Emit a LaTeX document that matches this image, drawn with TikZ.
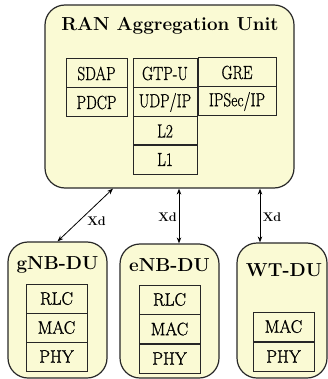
\documentclass[tikz,border=0pt]{standalone}
\usepackage{fontspec}
\usetikzlibrary{arrows.meta,calc}
\definecolor{unitfill}{RGB}{250,250,212}
\definecolor{unitline}{RGB}{40,40,40}
% layer labels: tall, slightly condensed and darkened serif
\newfontfamily\layerfont{Latin Modern Roman}[RawFeature={embolden=0.7}]
\newfontfamily\dufont{Latin Modern Roman}[RawFeature={embolden=1.3}]
\newcommand\toplayer[1]{\layerfont\fontsize{19}{20}\selectfont\scalebox{0.8}[1]{#1}}
\newcommand\dulayer[1]{\dufont\fontsize{18}{19}\selectfont\scalebox{0.95}[1]{#1}}
\tikzset{
  unitbox/.style={draw=unitline, line width=1.2pt, fill=unitfill, rounded corners=20pt, inner sep=0pt},
  unittitle/.style={font=\fontsize{18.8}{20}\selectfont\bfseries, inner sep=0pt},
  layerbox/.style={draw=black!85, line width=1pt, inner sep=0pt, minimum height=29pt},
  xdlink/.style={{Stealth[length=6pt,width=4.5pt]}-{Stealth[length=6pt,width=4.5pt]}, line width=0.8pt},
  xdlabel/.style={font=\fontsize{12.5}{13}\selectfont\bfseries, inner sep=0pt}
}
\begin{document}
\begin{tikzpicture}[x=1pt,y=-1pt]
\useasboundingbox (0,0) rectangle (328,379);

% central unit
\node[unitbox, minimum width=249pt, minimum height=183pt] (ran) at (169.5,96.5) {};
\node[unittitle] (rantitle) at (170,26) {RAN Aggregation Unit};

\node[layerbox, minimum width=61pt] (sdap) at (96.5,73.5) {\toplayer{SDAP}};
\node[layerbox, minimum width=61pt] (pdcp) at (96.5,102.5) {\toplayer{PDCP}};
\node[layerbox, minimum width=64pt] (gtpu) at (165,73.5) {\toplayer{GTP-U}};
\node[layerbox, minimum width=64pt] (udpip) at (165,102.5) {\toplayer{UDP/IP}};
\node[layerbox, minimum width=64pt] (ltwo) at (165,131) {\toplayer{L2}};
\node[layerbox, minimum width=64pt] (lone) at (165,159.5) {\toplayer{L1}};
\node[layerbox, minimum width=78pt] (gre) at (237,72.5) {\toplayer{GRE}};
\node[layerbox, minimum width=78pt] (ipsec) at (237,101.5) {\toplayer{IPSec/IP}};

% distributed units
\node[unitbox, minimum width=99pt, minimum height=136pt] (gnb) at (57.5,310) {};
\node[unittitle] (gnbtitle) at (57.5,265) {gNB-DU};
\node[layerbox, minimum width=61pt] (gnbrlc) at (56.5,298.5) {\dulayer{RLC}};
\node[layerbox, minimum width=61pt] (gnbmac) at (56.5,327.5) {\dulayer{MAC}};
\node[layerbox, minimum width=61pt] (gnbphy) at (56.5,356.5) {\dulayer{PHY}};

\node[unitbox, minimum width=99pt, minimum height=134pt] (enb) at (169.5,311) {};
\node[unittitle] (enbtitle) at (169.5,265.5) {eNB-DU};
\node[layerbox, minimum width=61pt] (enbrlc) at (169.5,299.5) {\dulayer{RLC}};
\node[layerbox, minimum width=61pt] (enbmac) at (169.5,329) {\dulayer{MAC}};
\node[layerbox, minimum width=61pt] (enbphy) at (169.5,358.5) {\dulayer{PHY}};

\node[unitbox, minimum width=90pt, minimum height=135pt] (wt) at (282,310.5) {};
\node[unittitle] (wttitle) at (284,270) {WT-DU};
\node[layerbox, minimum width=61pt] (wtmac) at (283.5,326.5) {\dulayer{MAC}};
\node[layerbox, minimum width=61pt] (wtphy) at (283.5,356.5) {\dulayer{PHY}};

% Xd interfaces
\coordinate (xenb) at (179,0);
\coordinate (xwt) at (260,0);
\draw[xdlink] ($(ran.south)+(-56.5,0)$) -- (gnb.north);
\draw[xdlink] (ran.south -| xenb) -- (enb.north -| xenb);
\draw[xdlink] (ran.south -| xwt) -- (wt.north -| xwt);
\node[xdlabel] (xdgnb) at (96.5,221.5) {Xd};
\node[xdlabel] (xdenb) at (167.5,217) {Xd};
\node[xdlabel] (xdwt) at (272,217) {Xd};
\end{tikzpicture}
\end{document}
